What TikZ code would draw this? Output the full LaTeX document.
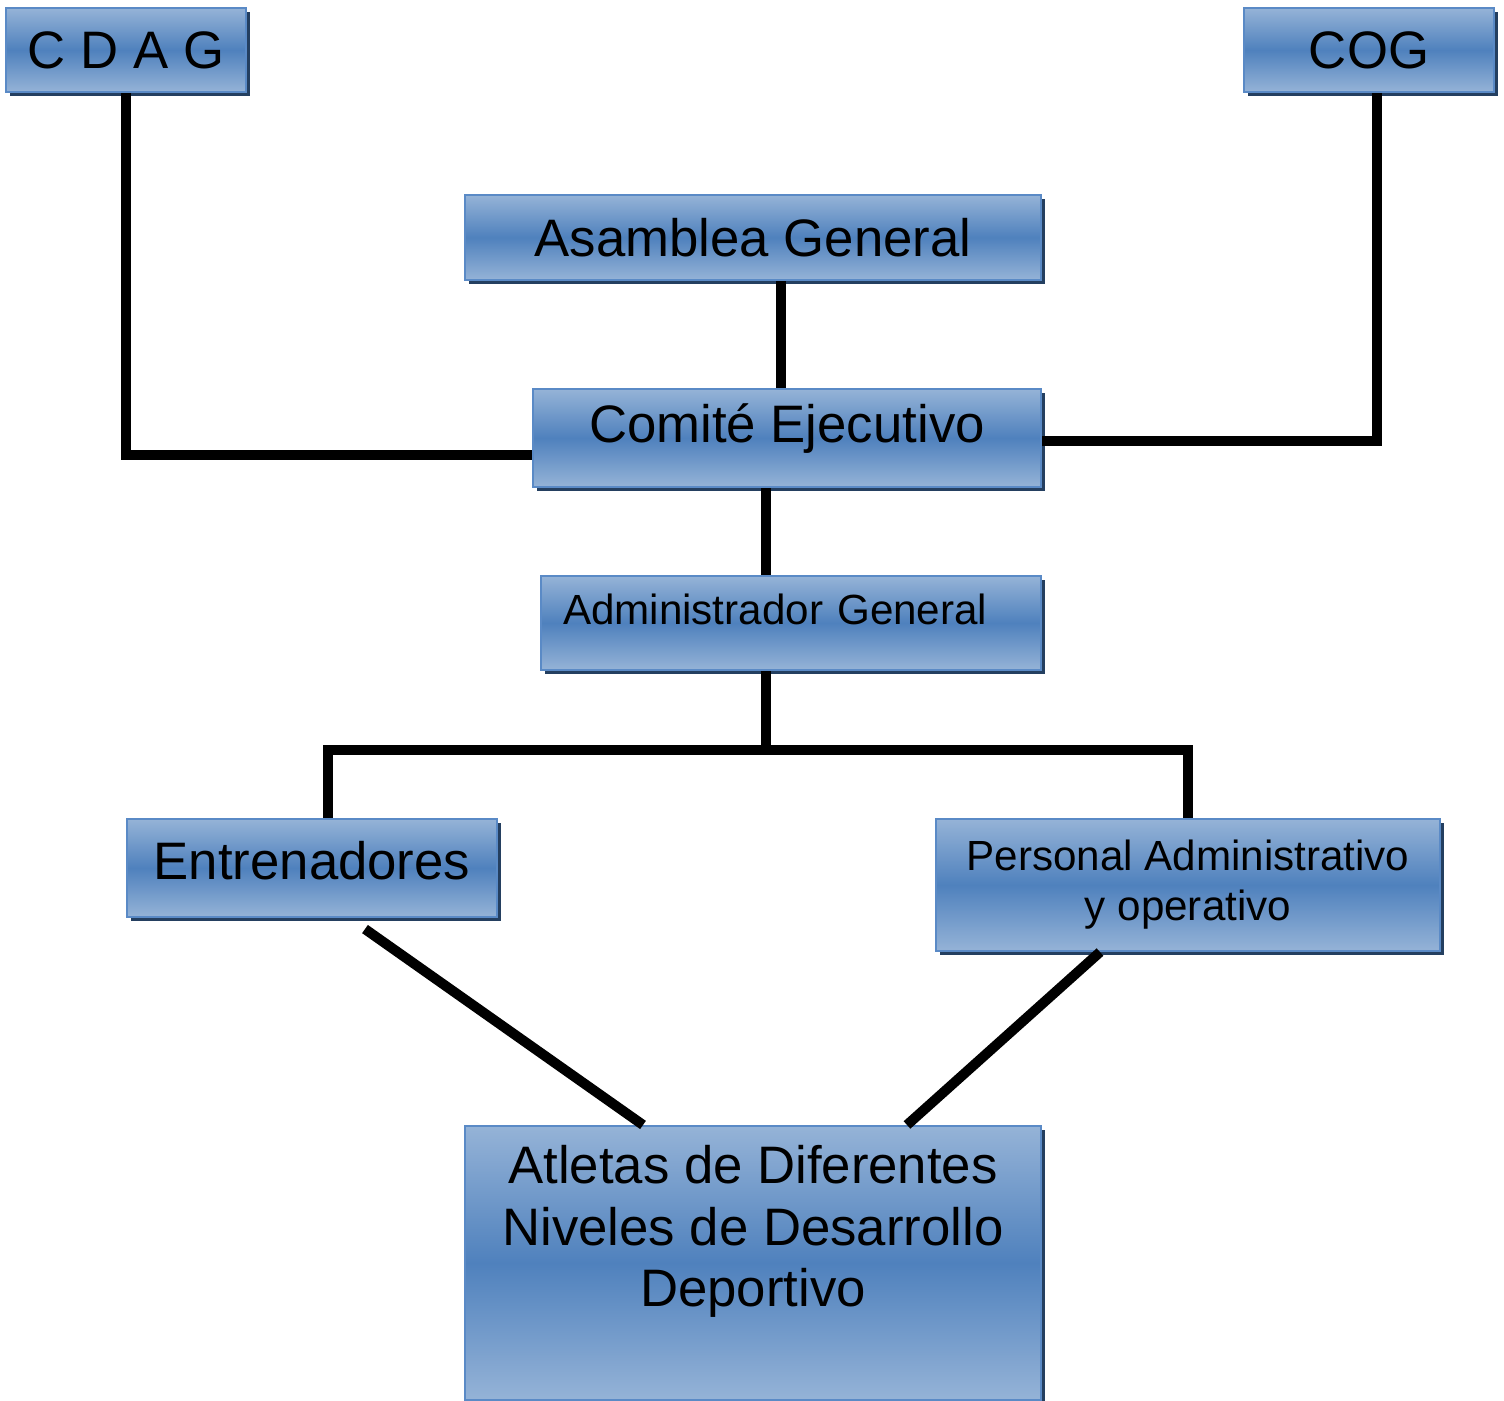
\documentclass[tikz,border=0pt]{standalone}
\usepackage{fontspec}
\setmainfont{Liberation Sans}
\usetikzlibrary{shadows}
\definecolor{boxlight}{HTML}{95B3D7}
\definecolor{boxdark}{HTML}{4F81BD}
\definecolor{boxedge}{HTML}{5A8AC6}
\definecolor{boxshadow}{HTML}{243F60}

\begin{document}
\begin{tikzpicture}[
	orgbox/.style={draw=boxedge, line width=0.6pt, top color=boxlight, bottom color=boxlight, middle color=boxdark,
		drop shadow={shadow xshift=0.04cm, shadow yshift=-0.04cm, fill=boxshadow, opacity=1}, inner sep=0pt, align=center},
	bigtext/.style={font=\fontsize{15}{17.6}\selectfont},
	smalltext/.style={font=\fontsize{12}{14.2}\selectfont},
	lift/.style={text depth=#1},
	link/.style={line width=2.85pt}]
	\useasboundingbox (0,0) rectangle (15.04,-14);

	\node[orgbox, bigtext, minimum width=2.40cm, minimum height=0.84cm] (cdag) at (1.26,-0.50) {C D A G};
	\node[orgbox, bigtext, minimum width=2.50cm, minimum height=0.84cm] (cog) at (13.69,-0.50) {COG};
	\node[orgbox, bigtext, minimum width=5.76cm, minimum height=0.85cm] (asamblea) at (7.53,-2.375) {Asamblea General};
	\node[orgbox, bigtext, lift=0.30cm, minimum width=5.08cm, minimum height=0.98cm] (comite) at (7.87,-4.38) {Comité Ejecutivo};
	\node[orgbox, smalltext, lift=0.27cm, text width=4.56cm, align=left, minimum width=5.00cm, minimum height=0.94cm] (admin) at (7.91,-6.23) {Administrador General};
	\node[orgbox, bigtext, lift=0.16cm, minimum width=3.70cm, minimum height=0.98cm] (entren) at (3.12,-8.68) {Entrenadores};
	\node[orgbox, smalltext, minimum width=5.04cm, minimum height=1.32cm] (personal) at (11.88,-8.85) {Personal Administrativo\\y operativo};
	\node[orgbox, bigtext, lift=0.74cm, minimum width=5.76cm, minimum height=2.74cm] (atletas) at (7.53,-12.63) {Atletas de Diferentes\\Niveles de Desarrollo\\Deportivo};

	% links to the executive committee
	\draw[link] (cdag.south) |- ([yshift=-0.17cm]comite.west);
	\draw[link] ([xshift=0.08cm]cog.south) |- ([yshift=-0.03cm]comite.east);
	\coordinate (asb) at ([xshift=0.28cm]asamblea.south);
	\draw[link] (asb) -- (asb |- comite.north);
	\coordinate (ceb) at ([xshift=-0.21cm]comite.south);
	\draw[link] (ceb) -- (ceb |- admin.north);

	% branches below the administrator
	\coordinate (split) at (7.66,-7.50);
	\draw[link] (split |- admin.south) -- (split);
	\draw[link] ([xshift=0.16cm]entren.north) |- (split) -| (personal.north);
	\draw[link] ([xshift=0.53cm,yshift=-0.11cm]entren.south) -- ([xshift=-1.10cm]atletas.north);
	\draw[link] ([xshift=-0.88cm]personal.south) -- ([xshift=1.54cm]atletas.north);
\end{tikzpicture}
\end{document}
